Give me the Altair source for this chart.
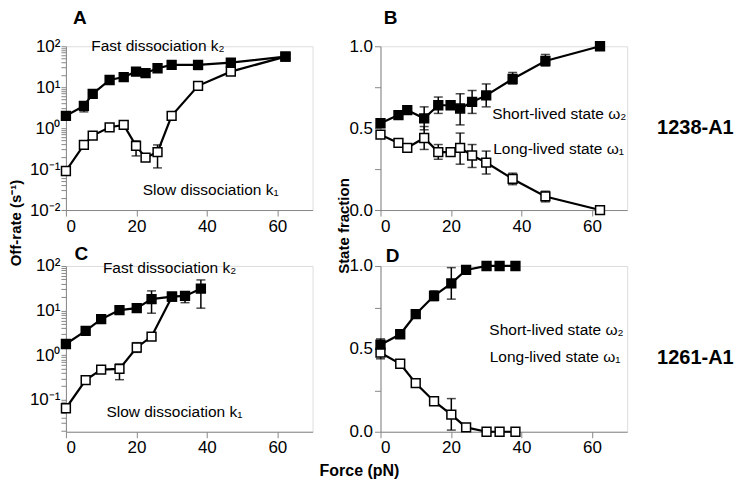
import altair as alt
import pandas as pd

FONT = "Liberation Sans"

# ---------------- 1238-A1 (panels A and B) ----------------
force_1238 = [0, 5.1, 7.6, 12.4, 16.4, 19.9, 22.6, 26.0, 30.0, 37.5, 46.8, 62.3]
k2_1238 = [2.0, 3.5, 6.9, 15, 17.7, 24, 22, 29, 35, 35, 40, 56]
k1_1238 = [0.09, 0.39, 0.66, 1.05, 1.2, 0.37, 0.19, 0.26, 2.0, 10.8, 24, 56]
k2_1238_err_force = [5.1, 37.5, 46.8]
k2_1238_err_lo = [2.5, 27, 32]
k2_1238_err_hi = [4.4, 43, 49]
k1_1238_err_force = [19.9, 26.0]
k1_1238_err_lo = [0.21, 0.107]
k1_1238_err_hi = [0.49, 0.39]

w2_1238 = [0.53, 0.58, 0.61, 0.56, 0.64, 0.64, 0.62, 0.66, 0.70, 0.80, 0.91, 1.0]
w1_1238 = [0.46, 0.41, 0.38, 0.44, 0.354, 0.354, 0.38, 0.333, 0.29, 0.19, 0.083, 0.0]
w_1238_err_force = [0, 12.4, 16.4, 19.9, 22.6, 26.0, 30.0, 37.5, 46.8]
w2_1238_err_lo = [0.51, 0.49, 0.59, 0.62, 0.52, 0.59, 0.63, 0.77, 0.88]
w2_1238_err_hi = [0.55, 0.63, 0.69, 0.66, 0.71, 0.73, 0.77, 0.84, 0.95]
w1_1238_err_lo = [0.44, 0.37, 0.31, 0.34, 0.28, 0.26, 0.22, 0.155, 0.05]
w1_1238_err_hi = [0.48, 0.51, 0.40, 0.37, 0.47, 0.40, 0.36, 0.225, 0.115]

# ---------------- 1261-A1 (panels C and D) ----------------
force_1261 = [0, 5.6, 10.0, 15.2, 20.1, 24.3, 30.1, 33.8, 38.3]
k2_1261 = [1.77, 3.5, 6.4, 10.2, 11.3, 18, 20.5, 21.3, 31]
k1_1261 = [0.064, 0.275, 0.47, 0.49, 1.48, 2.6, 20.5]
k2_1261_err_force = [24.3, 33.8, 38.3]
k2_1261_err_lo = [8.7, 15, 11.3]
k2_1261_err_hi = [27.6, 25, 48.6]
k1_1261_err_force = [15.2, 20.1]
k1_1261_err_lo = [0.28, 1.15]
k1_1261_err_hi = [0.63, 1.9]

w2_1261 = [0.525, 0.588, 0.709, 0.82, 0.895, 0.976, 1.0, 1.0, 1.0]
w1_1261 = [0.477, 0.41, 0.293, 0.184, 0.103, 0.026, 0.0, 0.0, 0.0]
w2_1261_err_force = [0, 15.2, 20.1]
w2_1261_err_lo = [0.49, 0.79, 0.80]
w2_1261_err_hi = [0.56, 0.85, 0.99]
w1_1261_err_force = [0, 20.1]
w1_1261_err_lo = [0.44, 0.01]
w1_1261_err_hi = [0.51, 0.20]


def pts_df(force, filled_vals, open_vals):
    a = pd.DataFrame({"force": force[:len(filled_vals)], "value": filled_vals, "kind": "filled"})
    b = pd.DataFrame({"force": force[:len(open_vals)], "value": open_vals, "kind": "open"})
    return pd.concat([b, a], ignore_index=True)


def err_df(*triples):
    frames = [pd.DataFrame({"force": f, "lo": lo, "hi": hi}) for f, lo, hi in triples]
    return pd.concat(frames, ignore_index=True)


X_AXIS = alt.Axis(values=[0, 20, 40, 60], title=None, tickSize=6, labelPadding=2,
                  labelFontSize=17, grid=False)

LOG_LABELS = ("datum.value == 100 ? '10²' : datum.value == 10 ? '10¹' : "
              "datum.value == 1 ? '10⁰' : datum.value == 0.1 ? '10⁻¹' : "
              "datum.value == 0.01 ? '10⁻²' : ''")


def log_axis(lowest):
    vals = [m * 10 ** e for e in range(-2, 2) for m in range(1, 10) if m * 10 ** e >= lowest] + [100]
    return alt.Axis(values=vals, labelExpr=LOG_LABELS, title=None, tickSize=5,
                    labelPadding=1, labelFontSize=17, grid=False)


FRAC_AXIS = alt.Axis(values=[0, 0.25, 0.5, 0.75, 1.0],
                     labelExpr="datum.value == 0 ? '0.0' : datum.value == 0.5 ? '0.5' : datum.value == 1 ? '1.0' : ''",
                     title=None, tickSize=6, labelPadding=2, labelFontSize=17, grid=False)


def pix_text(text, x, y, size, angle=0, align="center", bold=True):
    return alt.Chart(pd.DataFrame({"t": [text]})).mark_text(
        font=FONT, fontSize=size, fontWeight="bold" if bold else "normal",
        align=align, baseline="middle", angle=angle, color="black"
    ).encode(x=alt.value(x), y=alt.value(y), text="t:N")


def panel(pts, errs, yscale, yaxis, notes, extras, w, h):
    xs = alt.Scale(domain=[0, 70], nice=False, zero=False)
    x = alt.X("force:Q", scale=xs, axis=X_AXIS)

    def y(field):
        return alt.Y(field, type="quantitative", scale=yscale, axis=yaxis)

    lines = alt.Chart(pts).mark_line(color="black", strokeWidth=2.2).encode(
        x=x, y=y("value"), detail="kind:N")
    rules = alt.Chart(errs).mark_rule(color="black", strokeWidth=1.5).encode(
        x=x, y=y("lo"), y2="hi:Q")
    cap_lo = alt.Chart(errs).mark_tick(orient="horizontal", color="black", size=9,
                                       thickness=1.5).encode(x=x, y=y("lo"))
    cap_hi = alt.Chart(errs).mark_tick(orient="horizontal", color="black", size=9,
                                       thickness=1.5).encode(x=x, y=y("hi"))
    squares = alt.Chart(pts).mark_square(size=78, stroke="black", strokeWidth=1.5,
                                         opacity=1, fillOpacity=1).encode(
        x=x, y=y("value"),
        fill=alt.Fill("kind:N", scale=alt.Scale(domain=["filled", "open"], range=["black", "white"]),
                      legend=None))
    note_df = pd.DataFrame(notes, columns=["force", "value", "label"])
    texts = alt.Chart(note_df).mark_text(font=FONT, fontSize=15.5, align="left",
                                         baseline="middle", color="black").encode(
        x=x, y=y("value"), text="label:N")
    return alt.layer(lines, rules, cap_lo, cap_hi, squares, texts, *extras).properties(width=w, height=h)


LOGA = alt.Scale(type="log", domain=[0.01, 100], nice=False)
LOGC = alt.Scale(type="log", domain=[0.019, 100], nice=False)
FRAC = alt.Scale(domain=[0, 1], nice=False, zero=False)

A = panel(
    pts_df(force_1238, k2_1238, k1_1238),
    err_df((k2_1238_err_force, k2_1238_err_lo, k2_1238_err_hi),
           (k1_1238_err_force, k1_1238_err_lo, k1_1238_err_hi)),
    LOGA, log_axis(0.01),
    [(7.2, 100, "Fast dissociation k₂"), (21.8, 0.031, "Slow dissociation k₁")],
    [pix_text("A", 14, -28, 19), pix_text("Off-rate (s⁻¹)", -50, 177, 15, angle=270)],
    247, 164)

B = panel(
    pts_df(force_1238, w2_1238, w1_1238),
    err_df((w_1238_err_force, w2_1238_err_lo, w2_1238_err_hi),
           (w_1238_err_force, w1_1238_err_lo, w1_1238_err_hi)),
    FRAC, FRAC_AXIS,
    [(31.7, 0.585, "Short-lived state ω₂"), (32.0, 0.372, "Long-lived state ω₁")],
    [pix_text("B", 10, -28, 19), pix_text("State fraction", -37, 180, 15, angle=270),
     pix_text("1238-A1", 277, 82, 20, align="left")],
    247, 164)

C = panel(
    pts_df(force_1261, k2_1261, k1_1261),
    err_df((k2_1261_err_force, k2_1261_err_lo, k2_1261_err_hi),
           (k1_1261_err_force, k1_1261_err_lo, k1_1261_err_hi)),
    LOGC, log_axis(0.02),
    [(10.5, 90, "Fast dissociation k₂"), (11.5, 0.052, "Slow dissociation k₁")],
    [pix_text("C", 15.5, -12, 19)],
    247, 166)

D = panel(
    pts_df(force_1261, w2_1261, w1_1261),
    err_df((w2_1261_err_force, w2_1261_err_lo, w2_1261_err_hi),
           (w1_1261_err_force, w1_1261_err_lo, w1_1261_err_hi)),
    FRAC, FRAC_AXIS,
    [(30.9, 0.612, "Short-lived state ω₂"), (31.0, 0.45, "Long-lived state ω₁")],
    [pix_text("D", 12, -10, 19), pix_text("1261-A1", 277, 92, 20, align="left"),
     pix_text("Force (pN)", -21, 205, 16)],
    247, 166)

chart = alt.concat(
    A, B, C, D, columns=2,
    spacing=alt.RowColnumber(row=56, column=68),
    bounds="flush", align="each", padding=0,
).configure_view(stroke=None).configure_axis(
    domainColor="black", domainWidth=2, tickColor="black", tickWidth=1.5,
    labelFont=FONT, labelColor="black", grid=False,
).configure(background="white")

chart.save("out.html", embed_options={"renderer": "svg", "actions": False})
